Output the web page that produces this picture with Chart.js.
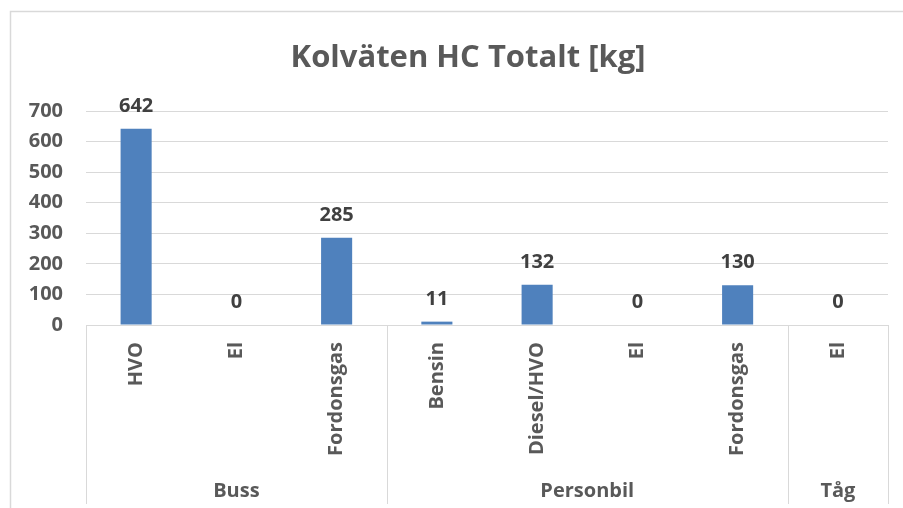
<!DOCTYPE html>
<html>
<head>
<meta charset="utf-8">
<script src="https://cdn.jsdelivr.net/npm/chart.js@4.4.1/dist/chart.umd.min.js"></script>
<style>
  html, body { margin: 0; padding: 0; background: #ffffff; }
  #wrap { width: 903px; height: 508px; position: relative; }
</style>
</head>
<body>
<div id="wrap"><canvas id="c" width="903" height="508"></canvas></div>
<script>
const titleText = 'Kolväten HC Totalt [kg]';
const categories = ['HVO', 'El', 'Fordonsgas', 'Bensin', 'Diesel/HVO', 'El', 'Fordonsgas', 'El'];
const values = [642, 0, 285, 11, 132, 0, 130, 0];
const groups = ['Buss', 'Personbil', 'Tåg'];
const groupSizes = [3, 4, 1];
const yTicks = [0, 100, 200, 300, 400, 500, 600, 700];

const FONT = "'Open Sans', 'DejaVu Sans', sans-serif";
const GRID = '#D9D9D9';
const TEXT = '#595959';

const extras = {
  id: 'extras',
  beforeDraw(chart) {
    const ctx = chart.ctx;
    ctx.save();
    ctx.strokeStyle = GRID;
    ctx.lineWidth = 1.5;
    ctx.beginPath();
    ctx.moveTo(10.5, 508);
    ctx.lineTo(10.5, 11.5);
    ctx.lineTo(903, 11.5);
    ctx.stroke();
    ctx.restore();
  },
  afterDatasetsDraw(chart) {
    const ctx = chart.ctx;
    const meta = chart.getDatasetMeta(0);
    ctx.save();
    ctx.font = 'bold 20px ' + FONT;
    ctx.fillStyle = '#404040';
    ctx.textAlign = 'center';
    ctx.textBaseline = 'alphabetic';
    meta.data.forEach((bar, i) => {
      ctx.fillText(String(values[i]), bar.x, bar.y - 17);
    });
    ctx.restore();
  },
  afterDraw(chart) {
    const ctx = chart.ctx;
    const xs = chart.scales.x;
    const area = chart.chartArea;
    ctx.save();
    // title
    ctx.font = 'bold 31px ' + FONT;
    ctx.fillStyle = TEXT;
    ctx.textAlign = 'center';
    ctx.textBaseline = 'alphabetic';
    ctx.fillText(titleText, 468, 67);
    // separators and group labels
    const bounds = [area.left];
    let idx = 0;
    groupSizes.forEach((n, g) => {
      idx += n;
      if (idx < categories.length) {
        bounds.push((xs.getPixelForValue(idx - 1) + xs.getPixelForValue(idx)) / 2);
      } else {
        bounds.push(area.right);
      }
    });
    ctx.strokeStyle = GRID;
    ctx.lineWidth = 1;
    bounds.forEach(b => {
      const x = Math.round(b) + 0.5;
      ctx.beginPath();
      ctx.moveTo(x, area.bottom);
      ctx.lineTo(x, 504);
      ctx.stroke();
    });
    ctx.font = 'bold 20px ' + FONT;
    ctx.fillStyle = TEXT;
    groups.forEach((g, i) => {
      ctx.fillText(g, (bounds[i] + bounds[i + 1]) / 2, 497);
    });
    ctx.restore();
  }
};

new Chart(document.getElementById('c'), {
  type: 'bar',
  data: {
    labels: categories,
    datasets: [{
      data: values,
      backgroundColor: '#4F81BD',
      borderWidth: 0,
      categoryPercentage: 1.0,
      barPercentage: 0.31
    }]
  },
  options: {
    responsive: false,
    devicePixelRatio: 1,
    animation: false,
    layout: { padding: { left: 10, right: 15, top: 111, bottom: 0 } },
    plugins: {
      legend: { display: false },
      title: { display: false },
      tooltip: { enabled: false }
    },
    scales: {
      x: {
        grid: { display: false, drawTicks: false },
        border: { display: true, color: GRID, width: 1 },
        ticks: {
          autoSkip: false,
          minRotation: 90,
          maxRotation: 90,
          padding: 17,
          color: TEXT,
          font: { family: FONT, size: 20, weight: 'bold' }
        },
        afterFit(s) { s.height = 183; }
      },
      y: {
        min: 0,
        max: 700,
        afterBuildTicks(s) { s.ticks = yTicks.map(v => ({ value: v })); },
        grid: { color: GRID, lineWidth: 1, drawTicks: false },
        border: { display: false },
        ticks: {
          padding: 23,
          color: TEXT,
          font: { family: FONT, size: 20, weight: 'bold' }
        },
        afterFit(s) { s.width = 76; }
      }
    }
  },
  plugins: [extras]
});
</script>
</body>
</html>
